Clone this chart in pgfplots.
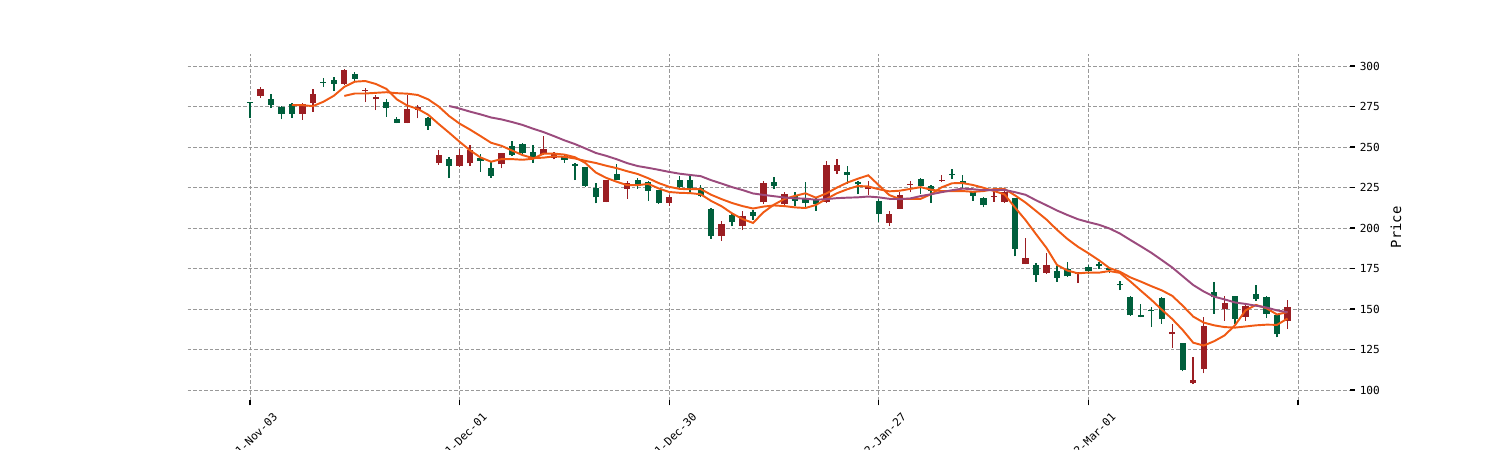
\documentclass[border=0pt]{standalone}
\usepackage{pgfplots}
\pgfplotsset{compat=1.18}
\usepackage{pgfplotstable}
\usepackage{fontspec}
\setmainfont{DejaVu Sans Mono}
\definecolor{cup}{RGB}{155,30,35}
\definecolor{cdown}{RGB}{0,95,60}
\definecolor{maor}{RGB}{240,90,20}
\definecolor{mapu}{RGB}{155,75,125}

\pgfplotstableread{
i O H L C
1 281.5 287.0 280.2 286.0
5 270.2 277.4 266.7 276.3
6 277.4 285.6 271.8 282.9
9 288.9 297.9 288.3 297.5
11 284.6 286.2 277.6 285.2
12 279.3 282.1 272.8 280.7
15 265.0 282.1 264.6 273.3
16 272.8 275.9 267.7 274.5
18 240.0 248.1 238.9 245.1
20 238.3 248.5 237.7 245.0
21 239.9 251.5 238.3 247.9
24 239.3 246.4 236.8 246.0
28 245.4 256.6 245.0 248.5
29 243.4 247.0 242.3 245.8
34 216.0 229.8 215.8 229.4
36 224.1 228.8 217.9 227.8
40 215.4 220.6 213.8 218.9
45 194.9 204.1 192.2 202.5
47 201.4 210.3 198.6 207.2
49 215.8 228.8 215.0 227.8
51 214.7 221.9 212.7 220.9
55 216.2 241.5 215.3 238.8
56 235.3 242.5 233.2 238.8
59 224.0 229.1 220.3 225.0
61 203.0 210.6 201.3 208.5
62 212.0 222.3 211.6 220.3
63 226.4 229.1 221.9 227.1
66 228.9 232.6 228.1 229.7
71 219.2 222.9 216.2 219.9
72 216.2 224.0 215.7 221.9
74 177.7 194.1 177.5 181.2
76 172.1 184.5 171.5 177.1
79 171.5 172.7 166.0 172.5
88 134.5 140.6 126.2 135.5
90 104.0 120.5 103.6 106.1
91 112.9 144.8 110.2 139.6
93 149.9 158.1 142.7 153.4
95 145.2 153.0 142.7 152.0
99 142.7 155.5 137.6 151.3
}\up

\pgfplotstableread{
i O H L C
0 277.5 278.0 268.0 277.0
2 279.4 282.5 273.9 276.1
3 274.7 275.5 267.1 270.4
4 276.3 277.4 267.9 270.2
7 290.3 292.4 287.2 289.8
8 291.4 293.0 284.4 288.9
10 295.1 296.5 290.9 292.2
13 277.8 279.4 268.7 273.9
14 267.1 268.7 264.6 265.0
17 267.7 268.7 260.5 263.0
19 242.3 244.0 230.7 238.3
22 243.4 245.4 234.8 241.3
23 236.8 240.9 231.1 232.1
25 250.5 253.6 244.4 245.0
26 251.9 252.3 245.8 246.2
27 247.0 251.1 240.3 244.0
30 244.4 245.8 240.3 241.9
31 239.3 240.3 229.5 238.3
32 237.7 237.7 225.4 226.0
33 224.5 227.6 215.2 218.9
35 233.1 239.7 229.4 229.8
37 229.8 230.9 224.1 226.1
38 228.2 228.8 216.5 223.0
39 223.3 223.7 215.0 215.4
41 229.4 232.3 224.7 225.3
42 229.4 232.3 221.6 224.7
43 224.7 226.7 219.1 219.5
44 211.7 212.3 193.2 194.9
46 208.2 208.8 201.0 203.5
48 209.9 211.3 205.1 207.6
50 228.5 231.2 224.0 226.0
52 219.9 221.9 213.3 216.8
53 217.8 228.1 212.7 215.3
54 217.8 218.8 210.6 214.7
57 234.3 238.4 227.1 232.6
58 228.1 229.1 220.9 227.1
60 216.8 217.8 203.8 208.5
64 230.1 230.6 220.9 225.6
65 226.0 226.4 215.7 222.9
67 233.6 236.3 230.1 232.6
68 229.0 233.0 224.5 227.5
69 222.3 222.9 216.8 219.9
70 218.4 219.4 212.7 214.1
73 218.2 218.8 182.4 187.3
75 177.1 178.3 166.8 170.9
77 173.6 176.6 166.8 169.4
78 174.6 178.7 170.0 170.1
80 175.6 177.1 171.5 173.6
81 177.5 179.1 174.6 176.6
82 175.0 176.2 172.1 174.2
83 165.3 167.0 161.6 164.5
84 157.5 157.7 145.8 146.2
85 146.2 153.0 144.8 145.2
86 149.3 151.3 139.0 148.5
87 156.5 157.1 141.0 143.7
89 128.7 129.3 111.4 112.2
92 160.2 166.4 147.2 157.1
94 158.1 158.3 140.6 143.7
96 159.2 164.9 155.0 156.1
97 157.1 158.1 144.3 146.8
98 146.4 146.8 132.4 134.5
}\down

\begin{document}
\begin{tikzpicture}
\begin{axis}[
  at={(135pt,35.64pt)}, anchor=south west,
  width=837pt, height=249.5pt, scale only axis,
  xmin=-5.964, xmax=104.964, ymin=93.5, ymax=307.4,
  axis line style={draw=none},
  tick align=outside, xtick pos=bottom, ytick pos=right, yticklabel pos=right,
  major tick length=3.5pt,
  tick style={black, line width=0.8pt},
  xtick={0,20,40,60,80,100},
  xticklabels={2021-Nov-03,2021-Dec-01,2021-Dec-30,2022-Jan-27,2022-Mar-01,{}},
  ytick={100,125,...,300},
  grid=major,
  grid style={dash pattern=on 2.5pt off 1.5pt, line width=0.5pt, color=gray!80},
  /pgf/number format/assume math mode=true,
  ticklabel style={font=\fontsize{8}{9}\selectfont},
  xticklabel style={xshift=16pt, rotate=45, anchor=north east},
  ylabel={Price},
  every axis y label/.style={at={(rel axis cs:1,0.5)}, xshift=33pt, rotate=90, anchor=center, font=\fontsize{10}{12}\selectfont},
]
% wicks
\addplot[draw=none, mark=none, forget plot, error bars/.cd, y dir=plus, y explicit, error mark=none,
  error bar style={draw=cup, line width=1pt}]
  table[x=i, y=L, y error expr=\thisrow{H}-\thisrow{L}] {\up};
\addplot[draw=none, mark=none, forget plot, error bars/.cd, y dir=plus, y explicit, error mark=none,
  error bar style={draw=cdown, line width=1pt}]
  table[x=i, y=L, y error expr=\thisrow{H}-\thisrow{L}] {\down};
% bodies
\addplot[draw=none, mark=none, forget plot, error bars/.cd, y dir=plus, y explicit, error mark=none,
  error bar style={draw=cup, line width=4.5pt}]
  table[x=i, y=O, y error expr=\thisrow{C}-\thisrow{O}] {\up};
\addplot[draw=none, mark=none, forget plot, error bars/.cd, y dir=plus, y explicit, error mark=none,
  error bar style={draw=cdown, line width=4.5pt}]
  table[x=i, y=C, y error expr=\thisrow{O}-\thisrow{C}] {\down};
% moving averages
\addplot[maor, line width=1.4pt, mark=none] coordinates {
(4,275.9) (5,275.8) (6,275.2) (7,277.9) (8,281.6) (9,287.1) (10,290.3) (11,290.7) (12,288.9) (13,285.9)
(14,279.4) (15,275.6) (16,273.5) (17,269.9) (18,264.2) (19,258.8) (20,253.2) (21,247.9) (22,243.5) (23,240.9)
(24,242.5) (25,242.5) (26,242.1) (27,242.7) (28,245.9) (29,245.9) (30,245.3) (31,243.7) (32,240.1) (33,234.2)
(34,230.9) (35,228.5) (36,226.4) (37,226.4) (38,227.2) (39,224.4) (40,222.2) (41,221.7) (42,221.5) (43,220.8)
(44,216.7) (45,213.4) (46,209.0) (47,205.5) (48,203.1) (49,209.7) (50,214.4) (51,217.9) (52,219.8) (53,221.4)
(54,218.7) (55,221.3) (56,224.9) (57,228.0) (58,230.4) (59,232.5) (60,226.4) (61,220.3) (62,217.9) (63,217.9)
(64,218.0) (65,220.9) (66,225.1) (67,227.6) (68,227.7) (69,226.5) (70,224.8) (71,222.8) (72,220.7) (73,212.6)
(74,204.9) (75,196.2) (76,187.7) (77,177.2) (78,173.7) (79,172.0) (80,172.5) (81,172.4) (82,173.4) (83,172.3)
(84,167.0) (85,161.3) (86,155.7) (87,149.6) (88,143.8) (89,137.0) (90,129.2) (91,127.4) (92,130.1) (93,133.7)
(94,140.0) (95,149.2) (96,152.5) (97,150.4) (98,146.6) (99,148.1)
};
\addplot[maor, line width=1.4pt, mark=none] coordinates {
(9,281.5) (10,283.0) (11,283.0) (12,283.4) (13,283.8) (14,283.2) (15,282.9) (16,282.1) (17,279.4) (18,275.0)
(19,269.1) (20,264.4) (21,260.7) (22,256.7) (23,252.6) (24,250.7) (25,247.8) (26,245.0) (27,243.1) (28,243.4)
(29,244.2) (30,243.9) (31,242.9) (32,241.4) (33,240.1) (34,238.4) (35,236.9) (36,235.0) (37,233.3) (38,230.7)
(39,227.7) (40,225.4) (41,224.1) (42,223.9) (43,224.0) (44,220.5) (45,217.8) (46,215.4) (47,213.5) (48,212.0)
(49,213.2) (50,213.9) (51,213.5) (52,212.7) (53,212.3) (54,214.2) (55,217.9) (56,221.4) (57,223.9) (58,225.9)
(59,225.6) (60,223.9) (61,222.6) (62,223.0) (63,224.1) (64,225.2) (65,223.6) (66,222.7) (67,222.7) (68,222.8)
(69,222.3) (70,222.8) (71,224.0) (72,224.1) (73,220.1) (74,215.7) (75,210.5) (76,205.2) (77,198.9) (78,193.2)
(79,188.4) (80,184.4) (81,180.1) (82,175.3) (83,173.0) (84,169.5) (85,166.9) (86,164.1) (87,161.5) (88,158.1)
(89,152.0) (90,145.3) (91,141.6) (92,139.9) (93,138.8) (94,138.5) (95,139.2) (96,139.9) (97,140.3) (98,140.2)
(99,144.1)
};
\addplot[mapu, line width=1.4pt, mark=none] coordinates {
(19,275.3) (20,273.7) (21,271.8) (22,270.1) (23,268.2) (24,267.0) (25,265.4) (26,263.6) (27,261.3) (28,259.2)
(29,256.7) (30,254.1) (31,251.8) (32,249.1) (33,246.3) (34,244.5) (35,242.4) (36,240.0) (37,238.2) (38,237.1)
(39,235.9) (40,234.6) (41,233.5) (42,232.7) (43,232.0) (44,229.5) (45,227.4) (46,225.2) (47,223.4) (48,221.3)
(49,220.4) (50,219.6) (51,218.8) (52,218.3) (53,218.1) (54,217.4) (55,217.8) (56,218.4) (57,218.7) (58,218.9)
(59,219.4) (60,218.9) (61,218.0) (62,217.8) (63,218.2) (64,219.7) (65,220.8) (66,222.1) (67,223.3) (68,224.3)
(69,223.9) (70,223.3) (71,223.3) (72,223.5) (73,222.1) (74,220.5) (75,217.1) (76,214.0) (77,210.8) (78,208.0)
(79,205.4) (80,203.6) (81,202.0) (82,199.7) (83,196.6) (84,192.6) (85,188.7) (86,184.7) (87,180.2) (88,175.6)
(89,170.2) (90,164.8) (91,160.8) (92,157.6) (93,155.9) (94,154.0) (95,153.1) (96,152.0) (97,150.9) (98,149.1)
(99,148.0)
};
\end{axis}
\pgfresetboundingbox
\useasboundingbox (0,0) rectangle (1080pt,324pt);
\end{tikzpicture}
\end{document}
